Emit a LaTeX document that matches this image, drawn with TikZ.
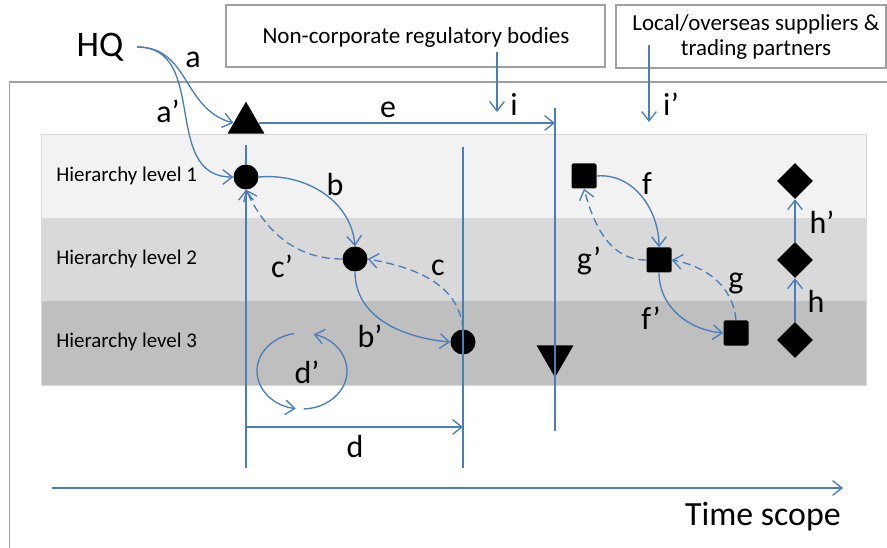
\documentclass[tikz,border=0pt]{standalone}
\usepackage{fontspec}
\setmainfont{Carlito}
\usetikzlibrary{arrows.meta,shapes.geometric,calc}
\definecolor{lnblue}{HTML}{4A7EBB}
\definecolor{bandA}{HTML}{F2F2F2}
\definecolor{bandB}{HTML}{D9D9D9}
\definecolor{bandC}{HTML}{BFBFBF}
\definecolor{frame}{HTML}{A0A0A0}
\begin{document}
\begin{tikzpicture}[x=0.75pt,y=0.75pt,
 plain/.style={draw=lnblue,line width=1pt},
 conn/.style={plain,-{Straight Barb[length=7pt,width=11pt]}},
 dashconn/.style={conn,dash pattern=on 6pt off 3.5pt},
 lbl/.style={font=\fontsize{24}{28}\selectfont,inner sep=0pt},
 lvl/.style={font=\fontsize{15.7}{18}\selectfont,anchor=west,inner sep=0pt},
 dot/.style={circle,fill=black,minimum size=18.75pt,inner sep=0pt},
 sq/.style={rectangle,fill=black,minimum size=18.75pt,inner sep=0pt,rounded corners=1pt},
 dia/.style={diamond,fill=black,minimum width=27pt,minimum height=27pt,inner sep=0pt},
 tri/.style={regular polygon,regular polygon sides=3,fill=black,minimum size=32pt,inner sep=0pt},
 boxed/.style={draw=frame,line width=0.8pt},
 ]
\useasboundingbox (0,0) rectangle (887,-548);
% outer frame
\draw[draw=frame,line width=0.8pt] (9.5,-548) -- (9.5,-82) -- (887,-82);
% top boxes
\draw[boxed] (226,-5) rectangle (605,-67);
\draw[boxed] (616,-5) rectangle (886,-68);
\node[font=\fontsize{17.3}{19}\selectfont,inner sep=0pt] (reg) at (416,-37) {Non-corporate regulatory bodies};
\node[font=\fontsize{17.2}{19}\selectfont,inner sep=0pt,align=center] (sup) at (756,-37) {Local/overseas suppliers \&\\trading partners};
% bands
\fill[bandA] (41,-134) rectangle (866,-218);
\fill[bandB] (41,-218) rectangle (866,-301);
\fill[bandC] (41,-301) rectangle (866,-385);
\draw[draw=black!15,line width=0.5pt] (41,-134) rectangle (866,-385);
\node[lvl] (l1) at (56,-176) {Hierarchy level 1};
\node[lvl] (l2) at (56,-259) {Hierarchy level 2};
\node[lvl] (l3) at (56,-342) {Hierarchy level 3};
% HQ
\node[font=\fontsize{27}{30}\selectfont,inner sep=0pt] (HQ) at (100,-47) {HQ};
\coordinate (hqs) at (137,-47);
% shapes
\node[tri] (tri) at (246,-123) {};
\node[tri,shape border rotate=180] (itri) at (555,-356) {};
\node[dot] (c1) at (246,-177) {};
\node[dot] (c2) at (355,-259) {};
\node[dot] (c3) at (463,-342) {};
\node[sq] (s1) at (584,-176) {};
\node[sq] (s2) at (659,-260) {};
\node[sq] (s3) at (736,-333) {};
\node[dia] (d1) at (795,-181) {};
\node[dia] (d2) at (795,-260) {};
\node[dia] (d3) at (795,-340) {};
% coordinates
\coordinate (v1top) at (246,-145);
\coordinate (v1bot) at (246,-468);
\coordinate (v2top) at (463,-147);
\coordinate (v2bot) at (463,-468);
\coordinate (v3top) at (555,-108);
\coordinate (v3bot) at (555,-431);
\coordinate (eend) at (555,-123);
\coordinate (dst) at (246,-427);
\coordinate (den) at (463,-427);
\coordinate (ist) at (497,-52);
\coordinate (ien) at (497,-112);
\coordinate (ipst) at (649,-45);
\coordinate (ipen) at (649,-122);
\coordinate (ts0) at (52,-488);
\coordinate (ts1) at (843,-488);
\coordinate (dc) at (302,-371);
% vertical lines
\draw[plain] (c1) -- (v1top);
\draw[conn] (v1bot) -- (c1);
\draw[plain] (v2top) -- (v2bot);
\draw[plain] (v3top) -- (v3bot);
% connectors
\draw[conn] (hqs) to[out=0,in=165,looseness=1.1] (tri.west);
\draw[conn] (hqs) to[out=0,in=180,looseness=1.15] (c1.west);
\draw[conn] (tri) -- (eend);
\draw[conn] (ist) -- (ien);
\draw[conn] (ipst) -- (ipen);
\draw[conn] (dst) -- (den);
\draw[conn] (ts0) -- (ts1);
\draw[conn] (c1.east) to[out=5,in=95] (c2.north);
\draw[dashconn] (c2.west) to[out=180,in=-65] (c1.south);
\draw[dashconn] (c3.north) to[out=95,in=-10] (c2.east);
\draw[conn] (c2.south) to[out=-90,in=175] (c3.west);
\draw[conn] (s1.east) to[out=5,in=90] (s2.north);
\draw[dashconn] (s2.west) to[out=180,in=-75] (s1.south);
\draw[dashconn] (s3.north) to[out=95,in=-10] (s2.east);
\draw[conn] (s2.south) to[out=-90,in=175] (s3.west);
\draw[conn] (d3.north) -- (d2.south);
\draw[conn] (d2.north) -- (d1.south);
% d' loop
\draw[conn] ($(dc)+(100:45 and 38)$) arc[start angle=100,end angle=262,x radius=45,y radius=38];
\draw[conn] ($(dc)+(272:45 and 38)$) arc[start angle=272,end angle=435,x radius=45,y radius=38];
% labels
\node[lbl] (la) at (193,-60) {a};
\node[lbl] (lap) at (168,-111) {a’};
\node[lbl] (le) at (388,-110) {e};
\node[lbl] (li) at (514,-104) {i};
\node[lbl] (lip) at (671,-104) {i’};
\node[lbl] (lb) at (335,-185) {b};
\node[lbl] (lcp) at (282,-266) {c’};
\node[lbl] (lc) at (438,-268) {c};
\node[lbl] (lbp) at (370,-336) {b’};
\node[lbl] (ldp) at (307,-372) {d’};
\node[lbl] (ld) at (355,-446) {d};
\node[lbl] (lf) at (647,-184) {f};
\node[lbl] (lgp) at (589,-261) {g’};
\node[lbl] (lg) at (736,-283) {g};
\node[lbl] (lfp) at (651,-318) {f’};
\node[lbl] (lh) at (816,-301) {h};
\node[lbl] (lhp) at (822,-222) {h’};
\node[font=\fontsize{25.4}{29}\selectfont,inner sep=0pt,anchor=east] (ts) at (841,-517) {Time scope};
\end{tikzpicture}
\end{document}
